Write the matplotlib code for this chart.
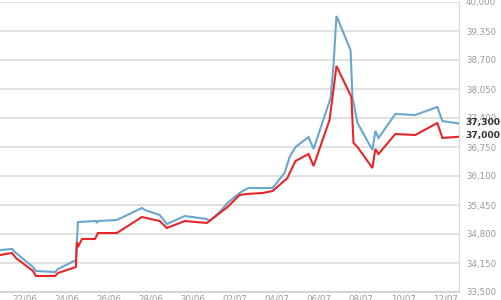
import matplotlib
matplotlib.use("Agg")
import matplotlib.pyplot as plt
import matplotlib.transforms as mtransforms

# x: days since 22/06
blue_x = [-1.19, -0.62, -0.43, 0.38, 0.52, 1.43, 1.57, 2.33, 2.42, 2.52, 3.37, 3.42, 3.47,
          4.37, 5.56, 5.70, 6.41, 6.75, 7.60, 8.65, 8.79, 9.26, 9.64, 10.21, 10.45, 10.64,
          11.78, 12.35, 12.59, 12.87, 13.49, 13.73, 14.54, 14.68, 14.82, 15.49, 15.58, 15.82,
          16.53, 16.67, 16.82, 17.62, 18.57, 19.62, 19.86, 20.62]
blue_y = [34440, 34464, 34374, 34060, 33971, 33948, 34015, 34195, 34195, 35069, 35091, 35047, 35091,
          35114, 35383, 35338, 35226, 35024, 35203, 35136, 35091, 35293, 35495, 35719, 35786, 35831,
          35831, 36167, 36526, 36750, 36974, 36705, 37848, 38588, 39686, 38924, 37871, 37288,
          36683, 37109, 36952, 37490, 37467, 37647, 37330, 37280]

red_x = [-1.19, -0.62, -0.43, 0.38, 0.52, 1.43, 1.57, 2.42, 2.47, 2.52, 2.71, 3.33, 3.47,
         4.37, 5.56, 6.41, 6.75, 7.60, 8.65, 9.64, 10.21, 10.55, 11.31, 11.78, 12.49, 12.59,
         12.87, 13.49, 13.73, 14.49, 14.82, 15.53, 15.63, 15.82, 16.53, 16.67, 16.82, 17.62,
         18.57, 19.62, 19.86, 20.62]
red_y = [34329, 34374, 34262, 33971, 33859, 33859, 33926, 34060, 34621, 34509, 34688, 34688, 34822,
         34822, 35181, 35091, 34934, 35091, 35047, 35405, 35674, 35697, 35719, 35764, 36055, 36167,
         36436, 36593, 36324, 37355, 38566, 37871, 36840, 36750, 36279, 36705, 36593, 37041,
         37019, 37288, 36952, 36980]

xtick_pos = [0, 2, 4, 6, 8, 10, 12, 14, 16, 18, 20]
xtick_labels = ["22/06", "24/06", "26/06", "28/06", "30/06", "02/07", "04/07", "06/07",
                "08/07", "10/07", "12/07"]
ytick_vals = [33500, 34150, 34800, 35450, 36100, 36750, 37400, 38050, 38700, 39350, 40000]
last_labels = ["37,300", "37,000"]
last_vals = [37300, 37000]

fig = plt.figure(figsize=(5.01, 3.0), dpi=100)
ax = fig.add_axes([0.0, 8 / 300, 459 / 501, 290 / 300])

ax.plot(blue_x, blue_y, color="#6aa6d0", lw=1.5, solid_joinstyle="miter", zorder=3)
ax.plot(red_x, red_y, color="#e8262a", lw=1.5, solid_joinstyle="miter", zorder=3)

ax.set_xlim(-1.19, 20.65)
ax.set_ylim(33500, 40000)

ax.yaxis.tick_right()
ax.set_yticks(ytick_vals)
ax.set_yticklabels([f"{v:,}" for v in ytick_vals])
ax.set_xticks(xtick_pos)
ax.set_xticklabels(xtick_labels)
ax.tick_params(axis="y", length=0, pad=5, labelsize=6.2, labelcolor="#9a9a9a")
ax.tick_params(axis="x", length=0, pad=1.5, labelsize=6.2, labelcolor="#9a9a9a")

ax.grid(axis="y", color="#dcdcdc", lw=1.2, zorder=0)
ax.grid(axis="x", visible=False)
for s in ["top", "left"]:
    ax.spines[s].set_visible(False)
ax.spines["right"].set_color("#d8d8d8")
ax.spines["bottom"].set_color("#c8d0d8")
ax.spines["bottom"].set_linewidth(1.2)

trans = mtransforms.blended_transform_factory(ax.transAxes, ax.transData)
for lab, v in zip(last_labels, last_vals):
    ax.text(1.0 + 6 / 459, v, lab, transform=trans, ha="left", va="center",
            fontsize=6.6, fontweight="bold", color="#333333", clip_on=False, zorder=5)

fig.savefig("out.png", dpi=100)
